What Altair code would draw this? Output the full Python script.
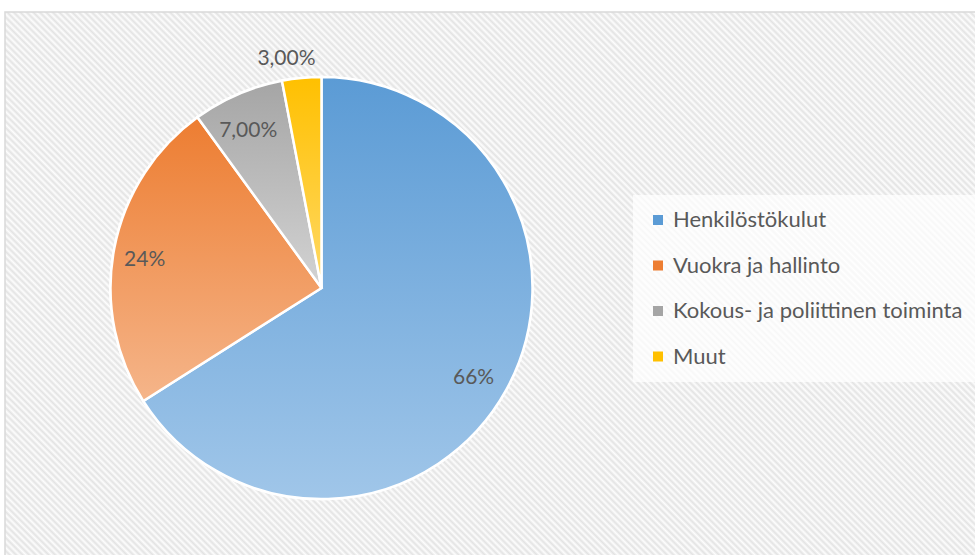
import altair as alt
import pandas as pd

# ---- data ----
categories = ["Henkilöstökulut", "Vuokra ja hallinto", "Kokous- ja poliittinen toiminta", "Muut"]
values = [66, 24, 7, 3]
labels = ["66%", "24%", "7,00%", "3,00%"]
order = [0, 1, 2, 3]

top_colors = ["#5B9BD5", "#ED7D31", "#A5A5A5", "#FFC000"]
bottom_colors = ["#A0C6E9", "#F5B58A", "#D3D3D3", "#FFD966"]

df = pd.DataFrame({"cat": categories, "value": values, "label": labels, "order": order})

# ---- layout ----
PW, PH = 970, 543          # plot area
CX, CY = 316.5, 276        # pie centre in plot coords
R = 211
TEXT = "#595959"
FONT = "Lato"

# ---- hatched background gradient (diagonal "\" stripes) ----
RW, RH = 975, 548
vx, vy = 1 / RH, -1 / RW
pmin, pmax = -1 / RW, 1 / RH
s = (pmax - pmin) / (vx * vx + vy * vy)
N = round((RW + RH) / 6.5)
stops = []
for k in range(N):
    stops.append({"offset": k / N, "color": "#fdfdfd"})
    stops.append({"offset": (k + 0.5) / N, "color": "#e3e3e3"})
stops.append({"offset": 1, "color": "#fdfdfd"})
hatch = {"gradient": "linear", "x1": 0, "y1": 1, "x2": s * vx, "y2": 1 + s * vy, "stops": stops}

bg = alt.Chart(alt.Data(values=[{"a": 1}])).mark_rect(
    fill=hatch, stroke="#d9d9d9", strokeWidth=1.5
).encode(x=alt.value(0), x2=alt.value(RW), y=alt.value(0), y2=alt.value(RH))

base = alt.Chart(df).transform_joinaggregate(
    total="sum(value)"
).transform_window(
    cum="sum(value)", sort=[alt.SortField("order")], frame=[None, 0]
).transform_calculate(
    t0="(datum.cum - datum.value) / datum.total * 2 * PI",
    t1="datum.cum / datum.total * 2 * PI",
).transform_calculate(
    tm="(datum.t0 + datum.t1) / 2"
)

legend_arcs = base.mark_arc(outerRadius=R, stroke="white", strokeWidth=2.5).encode(
    x=alt.value(CX), y=alt.value(CY),
    theta=alt.Theta("t0:Q", scale=None), theta2="t1:Q",
    color=alt.Color(
        "cat:N",
        scale=alt.Scale(domain=categories, range=top_colors),
        legend=alt.Legend(
            title=None, orient="none", legendX=628, legendY=183,
            symbolType="square", symbolSize=100, symbolStrokeWidth=0,
            labelFontSize=22, labelFont=FONT, labelColor=TEXT, labelLimit=0,
            labelOffset=4, rowPadding=23.5, padding=14,
            fillColor="rgba(255,255,255,0.72)",
        ),
    ),
)

grad_layers = []
for c, tc, bc in zip(categories, top_colors, bottom_colors):
    g = {"gradient": "linear", "x1": 0, "y1": 0, "x2": 0, "y2": 1,
         "stops": [{"offset": 0, "color": tc}, {"offset": 1, "color": bc}]}
    grad_layers.append(
        base.transform_filter(alt.datum.cat == c).mark_arc(
            outerRadius=R, fill=g, stroke="white", strokeWidth=2.5
        ).encode(
            x=alt.value(CX), y=alt.value(CY),
            theta=alt.Theta("t0:Q", scale=None), theta2="t1:Q",
        )
    )

inner_text = base.transform_filter(alt.datum.value >= 5).mark_text(
    fontSize=21, font=FONT, color=TEXT, align="center", baseline="middle", dy=5, dx=-3
).encode(
    x=alt.value(CX), y=alt.value(CY),
    theta=alt.Theta("tm:Q", scale=None), radius=alt.value(177), text="label:N",
)

outer_text = base.transform_filter(alt.datum.value < 5).mark_text(
    fontSize=21, font=FONT, color=TEXT, align="center", baseline="middle", dx=-13, dy=4
).encode(
    x=alt.value(CX), y=alt.value(CY),
    theta=alt.Theta("tm:Q", scale=None), radius=alt.value(234), text="label:N",
)

chart = alt.layer(bg, legend_arcs, *grad_layers, inner_text, outer_text).properties(
    width=PW, height=PH,
    padding={"left": 5, "top": 12, "right": 0, "bottom": 0},
    autosize=alt.AutoSizeParams(type="none"),
    background="white",
).configure_view(stroke=None)

chart.save("out.html", embed_options={"renderer": "svg", "actions": False})
